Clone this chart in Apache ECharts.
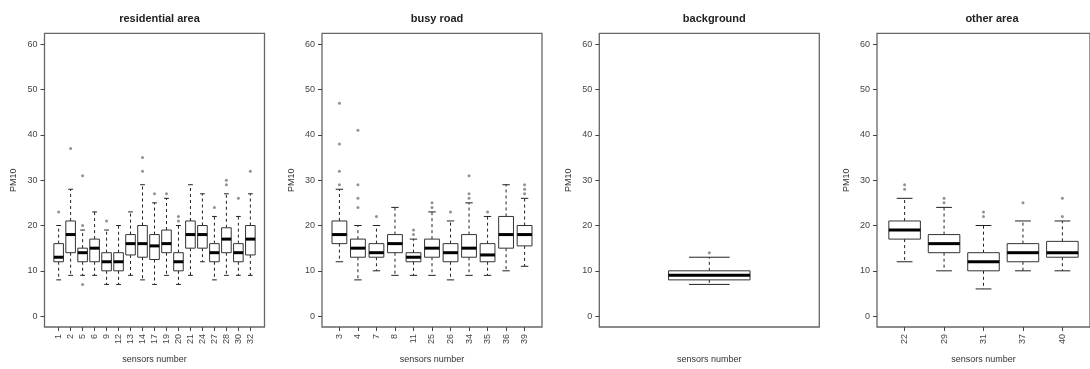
<!DOCTYPE html>
<html>
<head>
<meta charset="utf-8">
<script src="https://cdn.jsdelivr.net/npm/echarts@6/dist/echarts.min.js"></script>
<style>
    html, body { margin: 0; padding: 0; background: #ffffff; }
    #chart { width: 1090px; height: 369px; }
</style>
</head>
<body>
<div id="chart"></div>
<script>
// box stats per sensor: [lower whisker, Q1, median, Q3, upper whisker]
const residentialSensors = ['1', '2', '5', '6', '9', '12', '13', '14', '17', '19', '20', '21', '24', '27', '28', '30', '32'];
const residentialStats = [
    [8, 12, 13, 16, 20],
    [9, 14, 18, 21, 28],
    [9, 12, 14, 15, 19],
    [9, 12, 15, 17, 23],
    [7, 10, 12, 14, 19],
    [7, 10, 12, 14, 20],
    [9, 13.5, 16, 18, 23],
    [8, 13, 16, 20, 29],
    [7, 12.5, 15.5, 18, 25],
    [9, 14, 16, 19, 26],
    [7, 10, 12, 14, 20],
    [9, 15, 18, 21, 29],
    [12, 15, 18, 20, 27],
    [8, 12, 14, 16, 22],
    [9, 14, 17, 19.5, 27],
    [9, 12, 14, 16, 22],
    [9, 13.5, 17, 20, 27]
];
const residentialOutliers = [[23], [37], [7, 20, 31], [], [21], [], [], [32, 35], [27], [27], [21, 22], [], [], [24], [29, 30], [26], [32]];

const roadSensors = ['3', '4', '7', '8', '11', '25', '26', '34', '35', '36', '39'];
const roadStats = [
    [12, 16, 18, 21, 28],
    [8, 13, 15, 17, 20],
    [10, 13, 14, 16, 20],
    [9, 14, 16, 18, 24],
    [9, 12, 13, 14, 17],
    [9, 13, 15, 17, 23],
    [8, 12, 14, 16, 21],
    [9, 13, 15, 18, 25],
    [9, 12, 13.5, 16, 22],
    [10, 15, 18, 22, 29],
    [11, 15.5, 18, 20, 26]
];
const roadOutliers = [[29, 32, 38, 47], [24, 26, 29, 41], [22], [], [18, 19], [24, 25], [23], [26, 27, 31], [23], [], [27, 28, 29]];

const backgroundSensors = [''];
const backgroundStats = [[7, 8, 9, 10, 13]];
const backgroundOutliers = [[14]];

const otherSensors = ['22', '29', '31', '37', '40'];
const otherStats = [
    [12, 17, 19, 21, 26],
    [10, 14, 16, 18, 24],
    [6, 10, 12, 14, 20],
    [10, 12, 14, 16, 21],
    [10, 13, 14, 16.5, 21]
];
const otherOutliers = [[28, 29], [25, 26], [22, 23], [25], [22, 26]];

const yTicks = [0, 10, 20, 30, 40, 50, 60];

const panels = [
    { title: 'residential area', sensors: residentialSensors, stats: residentialStats, outliers: residentialOutliers, left: 44.5, wex: 0.8, ticks: true },
    { title: 'busy road', sensors: roadSensors, stats: roadStats, outliers: roadOutliers, left: 322, wex: 0.8, ticks: true },
    { title: 'background', sensors: backgroundSensors, stats: backgroundStats, outliers: backgroundOutliers, left: 599.3, wex: 0.4, ticks: false },
    { title: 'other area', sensors: otherSensors, stats: otherStats, outliers: otherOutliers, left: 877, wex: 0.8, ticks: true }
];

const plotTop = 33.4;
const plotHeight = 294.2;
const plotWidth = 220;
const font = 'Liberation Sans, Arial, sans-serif';

const makeRender = (wex) => (params, api) => {
    const x = api.value(0);
    const lo = api.coord([x, api.value(1)]);
    const q1 = api.coord([x, api.value(2)]);
    const med = api.coord([x, api.value(3)]);
    const q3 = api.coord([x, api.value(4)]);
    const hi = api.coord([x, api.value(5)]);
    const w = api.size([wex, 0])[0];
    const cx = med[0];
    const line = { stroke: '#222', lineWidth: 1 };
    const dashed = { stroke: '#222', lineWidth: 1, lineDash: [3, 3] };
    return {
        type: 'group',
        children: [
            { type: 'line', shape: { x1: cx, y1: q3[1], x2: cx, y2: hi[1] }, style: dashed },
            { type: 'line', shape: { x1: cx, y1: q1[1], x2: cx, y2: lo[1] }, style: dashed },
            { type: 'line', shape: { x1: cx - w / 4, y1: hi[1], x2: cx + w / 4, y2: hi[1] }, style: line },
            { type: 'line', shape: { x1: cx - w / 4, y1: lo[1], x2: cx + w / 4, y2: lo[1] }, style: line },
            { type: 'rect', shape: { x: cx - w / 2, y: q3[1], width: w, height: q1[1] - q3[1] }, style: { fill: '#fff', stroke: '#333', lineWidth: 1 } },
            { type: 'line', shape: { x1: cx - w / 2, y1: med[1], x2: cx + w / 2, y2: med[1] }, style: { stroke: '#000', lineWidth: 3 } }
        ]
    };
};

let title = [], grid = [], xAxis = [], yAxis = [], series = [];

panels.forEach((p, i) => {
    const n = p.sensors.length;
    const ext = 0.04 * n;
    const idx = p.sensors.map((s, k) => k + 1);

    title.push({
        text: p.title,
        left: p.left + plotWidth / 2,
        top: 8,
        textAlign: 'center',
        textStyle: { fontFamily: font, fontSize: 11, fontWeight: 'bold', color: '#222' }
    });
    grid.push({
        left: p.left, top: plotTop, width: plotWidth, height: plotHeight,
        show: true, borderColor: '#666', borderWidth: 1.3, backgroundColor: 'transparent'
    });
    xAxis.push({
        type: 'value', gridIndex: i,
        min: 0.5 - ext, max: n + 0.5 + ext,
        name: 'sensors number', nameLocation: 'middle', nameGap: 28,
        nameTextStyle: { fontFamily: font, fontSize: 9, color: '#333' },
        splitLine: { show: false },
        axisLine: { show: false, onZero: false },
        axisTick: { show: p.ticks, customValues: idx, length: 4, lineStyle: { color: '#444' } },
        axisLabel: {
            show: p.ticks, customValues: idx, rotate: 90, margin: 7,
            fontFamily: font, fontSize: 9, color: '#444',
            formatter: (v) => p.sensors[Math.round(v) - 1]
        }
    });
    yAxis.push({
        type: 'value', gridIndex: i,
        min: -2.4, max: 62.4,
        name: 'PM10', nameLocation: 'middle', nameGap: 26, nameRotate: 90,
        nameTextStyle: { fontFamily: font, fontSize: 9, color: '#333' },
        splitLine: { show: false },
        axisLine: { show: false, onZero: false },
        axisTick: { show: true, customValues: yTicks, length: 4, lineStyle: { color: '#444' } },
        axisLabel: { customValues: yTicks, margin: 7, fontFamily: font, fontSize: 9, color: '#444' }
    });
    series.push({
        type: 'custom', xAxisIndex: i, yAxisIndex: i,
        renderItem: makeRender(p.wex),
        encode: { x: 0, y: [1, 2, 3, 4, 5] },
        data: p.stats.map((s, k) => [k + 1].concat(s))
    });
    let pts = [];
    p.outliers.forEach((list, k) => list.forEach((v) => pts.push([k + 1, v])));
    series.push({
        type: 'scatter', xAxisIndex: i, yAxisIndex: i,
        symbol: 'circle', symbolSize: 3,
        itemStyle: { color: '#777' },
        data: pts
    });
});

const myChart = echarts.init(document.getElementById('chart'));
myChart.setOption({
    animation: false,
    backgroundColor: '#ffffff',
    title: title,
    grid: grid,
    xAxis: xAxis,
    yAxis: yAxis,
    series: series
});
</script>
</body>
</html>
